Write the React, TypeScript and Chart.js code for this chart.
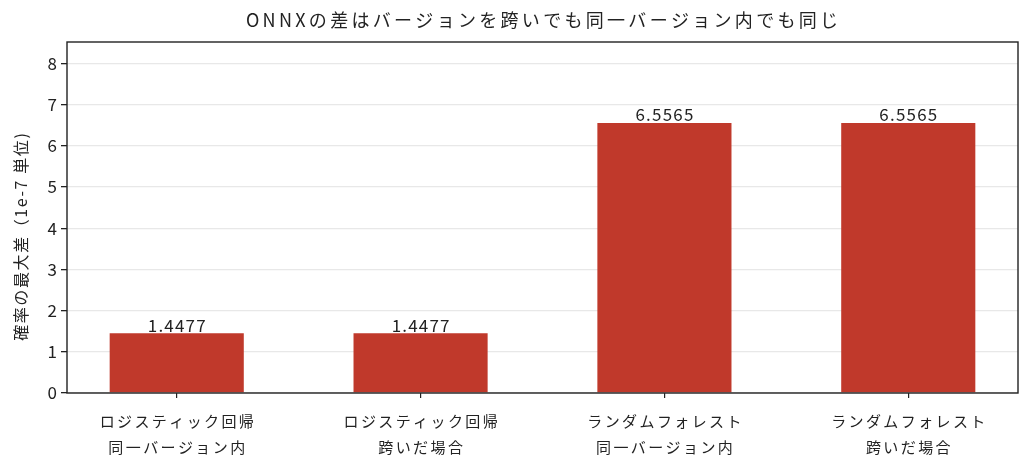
import React, { useEffect, useRef } from "react";
import { Chart, registerables } from "chart.js";

Chart.register(...registerables);

// data
const categories: string[][] = [
    ["ロジスティック回帰", "同一バージョン内"],
    ["ロジスティック回帰", "跨いだ場合"],
    ["ランダムフォレスト", "同一バージョン内"],
    ["ランダムフォレスト", "跨いだ場合"],
];
const maxDiff = [1.4477, 1.4477, 6.5565, 6.5565];
const yTicks = [0, 1, 2, 3, 4, 5, 6, 7, 8];
const titleText = "ONNXの差はバージョンを跨いでも同一バージョン内でも同じ";
const yTitleText = "確率の最大差（1e-7 単位)";

const FONT = "'Noto Sans CJK JP', 'Noto Sans', sans-serif";
const INK = "#222222";
const BAR = "#c0392b";

// centred text with a little extra letter spacing (the reference font is wide)
function spacedText(
    ctx: CanvasRenderingContext2D,
    text: string,
    x: number,
    y: number,
    size: number,
    spacing: number,
    baseline: CanvasTextBaseline = "middle"
) {
    ctx.save();
    ctx.font = `${size}px ${FONT}`;
    (ctx as any).letterSpacing = `${spacing}px`;
    ctx.fillStyle = INK;
    ctx.textAlign = "center";
    ctx.textBaseline = baseline;
    ctx.fillText(text, x + spacing / 2, y);
    ctx.restore();
}

const textLayer = {
    id: "textLayer",
    afterDraw(chart: Chart) {
        const { ctx, chartArea: a } = chart;

        // box round the plot area
        ctx.save();
        ctx.strokeStyle = INK;
        ctx.lineWidth = 1.4;
        ctx.strokeRect(a.left, a.top, a.right - a.left, a.bottom - a.top);
        ctx.restore();

        // title
        spacedText(ctx, titleText, 542, 20, 18, 3.3);

        // y axis title
        ctx.save();
        ctx.translate(21, 237);
        ctx.rotate(-Math.PI / 2);
        spacedText(ctx, yTitleText, 0, 0, 16, 1.6);
        ctx.restore();

        // x category labels, two lines each
        const xs = chart.scales.x;
        categories.forEach((lines, i) => {
            const x = xs.getPixelForValue(i);
            spacedText(ctx, lines[0], x, a.bottom + 28, 15, 2.4);
            spacedText(ctx, lines[1], x, a.bottom + 54, 15, 2.4);
        });

        // value labels over the bars
        const meta = chart.getDatasetMeta(0);
        meta.data.forEach((el: any, i: number) => {
            spacedText(ctx, maxDiff[i].toFixed(4), el.x, el.y - 1.5, 17, 1.2, "alphabetic");
        });
    },
};

export default function App() {
    const canvasRef = useRef<HTMLCanvasElement | null>(null);
    const chartRef = useRef<Chart | null>(null);

    useEffect(() => {
        document.body.style.margin = "0";
        if (!canvasRef.current) return;
        const ctx = canvasRef.current.getContext("2d");
        if (!ctx) return;
        chartRef.current?.destroy();

        chartRef.current = new Chart(ctx, {
            type: "bar",
            data: {
                datasets: [
                    {
                        label: "max diff",
                        data: maxDiff.map((v, i) => ({ x: i, y: v })),
                        backgroundColor: BAR,
                        borderWidth: 0,
                        barPercentage: 0.55,
                        categoryPercentage: 1,
                    },
                ],
            },
            options: {
                animation: false,
                responsive: true,
                maintainAspectRatio: false,
                layout: { padding: { left: 0, right: 12, top: 42, bottom: 0 } },
                plugins: {
                    legend: { display: false },
                    tooltip: { enabled: false },
                    title: { display: false },
                },
                scales: {
                    x: {
                        type: "linear",
                        min: -0.45,
                        max: 3.45,
                        offset: false,
                        afterBuildTicks: (scale: any) => {
                            scale.ticks = categories.map((_, i) => ({ value: i }));
                        },
                        afterFit: (scale: any) => {
                            scale.height = 81;
                        },
                        border: { display: false },
                        grid: {
                            offset: false,
                            drawOnChartArea: false,
                            drawTicks: true,
                            tickLength: 5,
                            color: INK,
                            lineWidth: 1.2,
                        },
                        ticks: { display: false },
                    },
                    y: {
                        min: 0,
                        max: 8.52,
                        z: 1,
                        afterBuildTicks: (scale: any) => {
                            scale.ticks = yTicks.map((v) => ({ value: v }));
                        },
                        afterFit: (scale: any) => {
                            scale.width = 67;
                        },
                        border: { display: false },
                        grid: {
                            color: "rgba(205,205,205,0.45)",
                            lineWidth: 1.3,
                            tickColor: INK,
                            tickLength: 6,
                        },
                        ticks: {
                            color: INK,
                            padding: 4,
                            font: { family: FONT, size: 17 },
                        },
                    },
                },
            },
            plugins: [textLayer],
        });

        return () => {
            chartRef.current?.destroy();
            chartRef.current = null;
        };
    }, []);

    return (
        <div style={{ position: "relative", width: 1030, height: 474, background: "#fff" }}>
            <canvas ref={canvasRef}></canvas>
        </div>
    );
}
